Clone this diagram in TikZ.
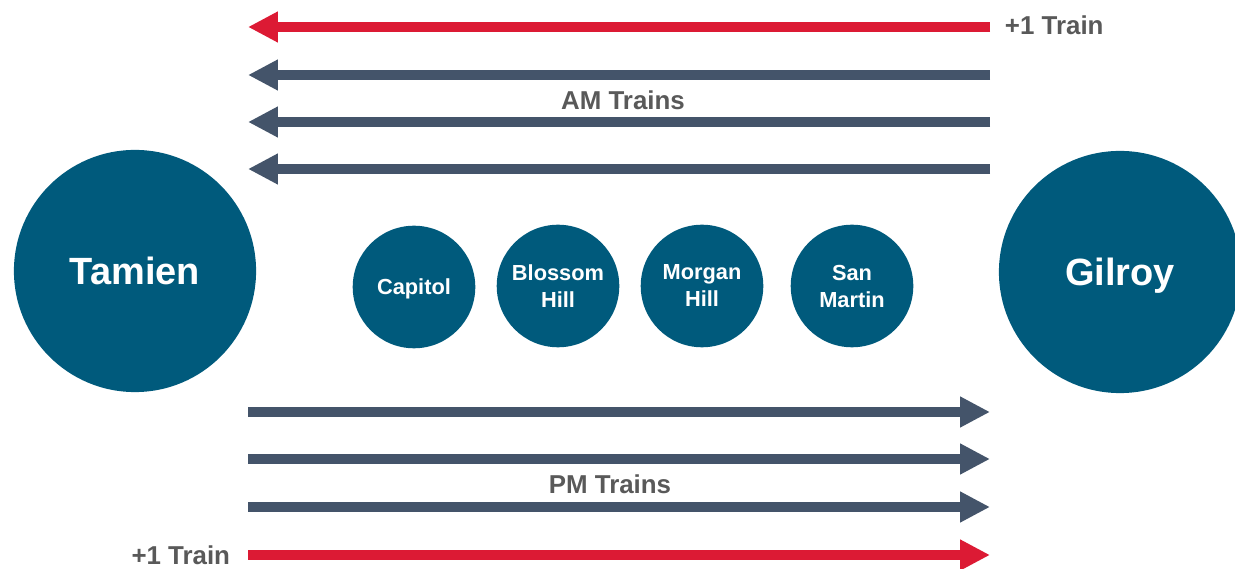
\documentclass[tikz,border=0pt]{standalone}
\usepackage{fontspec}
\setmainfont{Liberation Sans}
\usetikzlibrary{arrows.meta}

\definecolor{stationblue}{HTML}{005A7C}
\definecolor{trainred}{HTML}{DC1A34}
\definecolor{trainslate}{HTML}{44546A}
\definecolor{labelgray}{HTML}{595959}

\tikzset{
  terminal/.style={circle, fill=stationblue, minimum size=243*0.7087pt, inner sep=0pt,
    text depth=0pt, text=white, font=\fontsize{27}{32}\selectfont\bfseries},
  stop/.style={circle, fill=stationblue, minimum size=123*0.7087pt, inner sep=0pt,
    text depth=0pt, text=white, align=center, font=\fontsize{15.5}{19.2}\selectfont\bfseries},
  train/.style={line width=10*0.7087pt, -{Triangle[length=30*0.7087pt, width=29*0.7087pt]}},
  trainlabel/.style={text=labelgray, font=\fontsize{18.4}{22}\selectfont\bfseries}
}

\begin{document}
\begin{tikzpicture}[x=0.025cm, y=-0.025cm]
  \useasboundingbox (0,0) rectangle (1235,569);

  % stations
  \node[terminal] (tamien) at (135,271) {Tamien};
  \node[terminal] (gilroy) at (1120,272) {Gilroy};

  \node[stop] (capitol) at (414,287) {Capitol};
  \node[stop] (blossom) at (558,286) {Blossom\\Hill};
  \node[stop] (morgan) at (702,286) {Morgan\\Hill};
  \node[stop] (sanmartin) at (852,286) {San\\Martin};

  % AM trains, Gilroy to Tamien
  \coordinate (amr w) at (248,27);  \coordinate (amr e) at (990,27);
  \coordinate (am1 w) at (248,75);  \coordinate (am1 e) at (990,75);
  \coordinate (am2 w) at (248,122); \coordinate (am2 e) at (990,122);
  \coordinate (am3 w) at (248,169); \coordinate (am3 e) at (990,169);

  \draw[train, trainred] (amr e) -- (amr w);
  \draw[train, trainslate] (am1 e) -- (am1 w);
  \draw[train, trainslate] (am2 e) -- (am2 w);
  \draw[train, trainslate] (am3 e) -- (am3 w);

  \node[trainlabel, anchor=west] (amplus) at (1000,25) {+1 Train};
  \node[trainlabel] (amtrains) at (623,100) {AM Trains};

  % PM trains, Tamien to Gilroy
  \coordinate (pm1 w) at (248,412); \coordinate (pm1 e) at (990,412);
  \coordinate (pm2 w) at (248,459); \coordinate (pm2 e) at (990,459);
  \coordinate (pm3 w) at (248,507); \coordinate (pm3 e) at (990,507);
  \coordinate (pmr w) at (248,555); \coordinate (pmr e) at (990,555);

  \draw[train, trainslate] (pm1 w) -- (pm1 e);
  \draw[train, trainslate] (pm2 w) -- (pm2 e);
  \draw[train, trainslate] (pm3 w) -- (pm3 e);
  \draw[train, trainred] (pmr w) -- (pmr e);

  \node[trainlabel] (pmtrains) at (610,484) {PM Trains};
  \node[trainlabel, anchor=east] (pmplus) at (235,555) {+1 Train};
\end{tikzpicture}
\end{document}
